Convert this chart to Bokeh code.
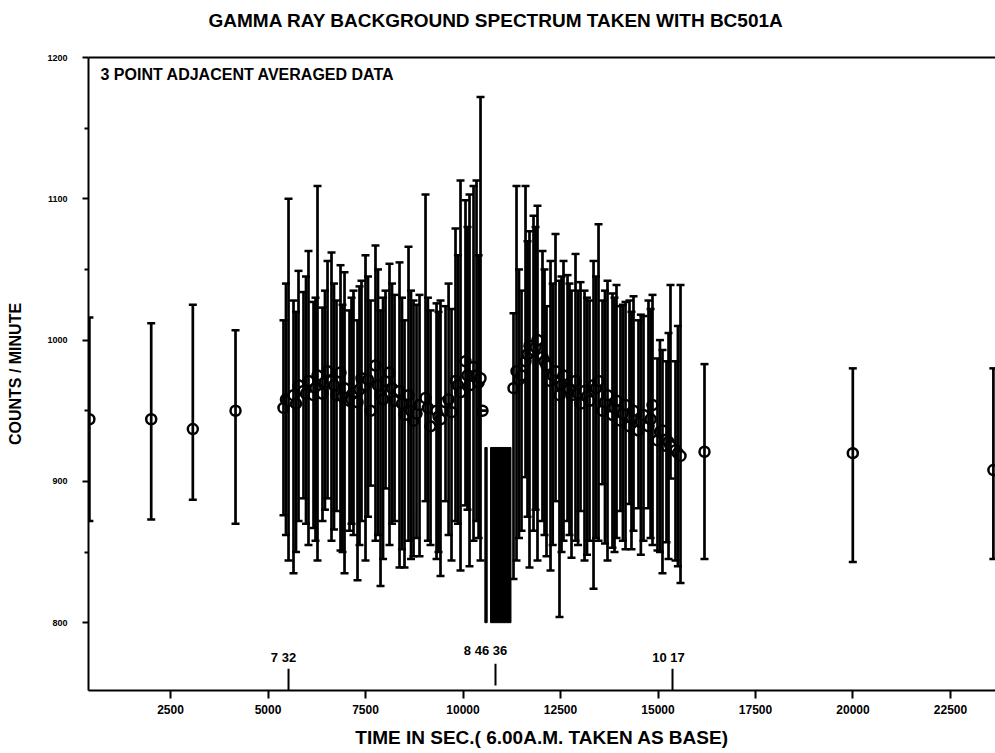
from bokeh.plotting import figure
from bokeh.models import ColumnDataSource, FixedTicker, LinearAxis, Range1d, Label, BasicTickFormatter
from bokeh.embed import file_html
from bokeh.resources import INLINE
from bokeh.core.properties import value

# ---- data (time in s after 6:00 A.M., counts/minute, error-bar low/high) ----
time_s = [420, 2005, 3072, 4167,
          5397, 5460, 5526, 5654, 5718, 5782, 5910, 5974, 6038, 6167, 6218, 6269, 6397, 6460,
          6526, 6628, 6692, 6756, 6859, 6910, 6962, 7090, 7141, 7192, 7295, 7346, 7397, 7500,
          7564, 7628, 7756, 7820, 7885, 7950, 8013, 8115, 8180, 8244, 8372, 8436, 8500, 8603,
          8667, 8731, 8808, 8885, 9039, 9100, 9167, 9321, 9372, 9423, 9552, 9630, 9705, 9808,
          9870, 9936, 10064, 10115, 10167, 10270, 10346, 10400, 10449, 10500,
          11295, 11372, 11436, 11500, 11603, 11654, 11705, 11808, 11860, 11910, 12038, 12090,
          12141, 12244, 12300, 12372, 12474, 12526, 12577, 12680, 12730, 12782, 12885, 12950,
          13013, 13116, 13180, 13244, 13347, 13410, 13475, 13577, 13640, 13705, 13833, 13885,
          13936, 14038, 14100, 14167, 14269, 14320, 14372, 14500, 14560, 14628, 14756, 14810,
          14859, 14987, 15050, 15115, 15218, 15270, 15320, 15449, 15510, 15577,
          16192, 19995, 23600]
counts = [944, 944, 937, 950,
          952, 958, 957, 961, 955, 968, 964, 962, 971, 961, 966, 975, 962, 970,
          978, 971, 968, 961, 977, 960, 966, 957, 958, 963, 956, 965, 973, 968,
          972, 950, 982, 968, 961, 958, 971, 977, 966, 957, 964, 955, 947, 961,
          950, 943, 948, 954, 959, 952, 939, 950, 946, 944, 956, 958, 949, 971,
          968, 963, 985, 975, 968, 981, 975, 970, 973, 950,
          966, 978, 972, 975, 985, 990, 996, 993, 995, 1000, 988, 985,
          982, 971, 975, 978, 961, 968, 975, 966, 965, 961, 971, 962,
          955, 964, 960, 957, 968, 966, 971, 950, 956, 961, 947, 952,
          957, 943, 948, 954, 939, 945, 950, 936, 942, 947, 939, 944,
          954, 929, 935, 936, 925, 928, 925, 922, 920, 918,
          921, 920, 908]
err_lo = [872, 873, 887, 870,
          876, 862, 844, 835, 850, 872, 888, 870, 855, 867, 858, 844, 872, 880,
          888, 858, 866, 879, 851, 850, 835, 865, 870, 862, 830, 855, 872, 844,
          875, 897, 858, 862, 826, 845, 895, 855, 870, 872, 839, 852, 839, 858,
          845, 847, 860, 847, 886, 858, 855, 845, 850, 833, 886, 862, 844, 872,
          870, 837, 883, 880, 840, 858, 872, 860, 844, 950,
          831, 844, 860, 865, 903, 875, 839, 865, 880, 844, 872, 862,
          847, 837, 855, 886, 804, 850, 858, 872, 862, 846, 858, 855,
          879, 844, 848, 858, 824, 860, 858, 898, 856, 844, 853, 850,
          860, 879, 858, 852, 884, 852, 865, 881, 848, 858, 881, 860,
          855, 851, 850, 835, 857, 845, 902, 844, 840, 828,
          845, 843, 845]
err_hi = [1016, 1012, 1025, 1007,
          1014, 1040, 1100, 1028, 1020, 1049, 1034, 1045, 1063, 1027, 1030, 1109, 1023, 1035,
          1056, 1062, 1040, 1028, 1053, 1025, 1048, 1021, 1030, 1035, 1014, 1038, 1042, 1060,
          1045, 1028, 1067, 1050, 1021, 1030, 1035, 1054, 1040, 1032, 1055, 1030, 1014, 1066,
          1035, 1028, 1025, 1032, 1103, 1030, 1021, 1026, 1020, 1028, 1024, 1040, 1022, 1079,
          1060, 1113, 1099, 1080, 1103, 1109, 1113, 1060, 1172, 950,
          1019, 1109, 1050, 1035, 1109, 1070, 1077, 1088, 1080, 1095, 1063, 1050,
          1024, 1056, 1040, 1075, 1042, 1045, 1056, 1046, 1040, 1035, 1061, 1035,
          1041, 1035, 1030, 1028, 1056, 1045, 1082, 1028, 1035, 1042, 1033, 1030,
          1039, 1024, 1025, 1027, 1028, 1020, 1031, 1014, 1018, 1017, 1028, 1022,
          1032, 987, 1000, 993, 985, 1005, 1039, 985, 1010, 1039,
          983, 980, 980]

# solid block of overlapping bars around 9:00 A.M.
block_start = [10560, 10706]
block_end = [10620, 11230]
block_lo = [800, 800]
block_hi = [924, 924]

# clock-time markers
marker_times = [5526, 10833, 15372]
marker_base = [752, 755.5, 752]
marker_top = [767.4, 771, 767.4]
marker_label_x = [5397, 10577, 15269]
marker_label_y = [770, 775, 770]
marker_labels = ["7 32", "8 46 36", "10 17"]

x_ticks = [2500, 5000, 7500, 10000, 12500, 15000, 17500, 20000, 22500]
y_ticks = [800, 900, 1000, 1100, 1200]
y_minor = [850, 950, 1050, 1150]

FONT = "Liberation Sans"

src = ColumnDataSource(dict(x=time_s, y=counts, lo=err_lo, hi=err_hi))

p = figure(width=995, height=753,
           x_range=Range1d(397, 23654), y_range=Range1d(752, 1200),
           output_backend="svg", toolbar_location=None,
           min_border_left=88, min_border_right=0, min_border_top=57, min_border_bottom=63)

p.grid.visible = False
p.outline_line_color = None
p.background_fill_color = "white"

# title
p.title.text = "GAMMA RAY BACKGROUND SPECTRUM TAKEN WITH BC501A"
p.title.align = "left"
p.title.offset = 120
p.title.text_font = FONT
p.title.text_font_size = "19px"
p.title.text_font_style = "bold"
p.title.text_color = "black"
p.title.standoff = 0

# axes (configure before adding the top frame line)
xa = p.below[0]
xa.ticker = FixedTicker(ticks=x_ticks)
xa.formatter = BasicTickFormatter(use_scientific=False)
xa.axis_label = "TIME IN SEC.( 6.00A.M. TAKEN AS BASE)"
xa.axis_label_text_font = FONT
xa.axis_label_text_font_size = "19px"
xa.axis_label_text_font_style = "bold"
xa.axis_label_standoff = 10
xa.major_label_text_font = FONT
xa.major_label_text_font_size = "12px"
xa.major_label_text_font_style = "bold"
xa.major_label_standoff = 6
xa.major_tick_out = 8
xa.major_tick_in = 0
xa.axis_line_width = 2
xa.major_tick_line_width = 2
xa.minor_tick_line_color = None

ya = p.left[0]
ya.ticker = FixedTicker(ticks=y_ticks, minor_ticks=y_minor)
ya.axis_label = "COUNTS / MINUTE"
ya.axis_label_text_font = FONT
ya.axis_label_text_font_size = "16px"
ya.axis_label_text_font_style = "bold"
ya.axis_label_standoff = 20
ya.major_label_text_font = FONT
ya.major_label_text_font_size = "9px"
ya.major_label_text_font_style = "bold"
ya.major_label_standoff = 15
ya.major_tick_out = 6
ya.major_tick_in = 0
ya.minor_tick_out = 4
ya.minor_tick_in = 0
ya.axis_line_width = 2
ya.major_tick_line_width = 2
ya.minor_tick_line_width = 2
ya.minor_tick_line_color = "black"

for a in (xa, ya):
    a.axis_label_text_color = "black"
    a.major_label_text_color = "black"
    a.axis_line_color = "black"
    a.major_tick_line_color = "black"

# top frame line (its blank label only reserves room under the title)
top_axis = LinearAxis(ticker=FixedTicker(ticks=[]), major_label_text_font_size="0px",
                      major_tick_line_color=None, minor_tick_line_color=None,
                      major_label_standoff=0, major_tick_out=0,
                      axis_label=" ", axis_label_text_font_size="2px", axis_label_standoff=22,
                      axis_line_width=2, axis_line_color="black")
p.add_layout(top_axis, "above")

# points (drawn first, error bars over them)
p.scatter(x="x", y="y", source=src, marker="circle", size=10,
          line_color="black", line_width=2.5, fill_color="white")

# error bars
p.segment(x0="x", y0="lo", x1="x", y1="hi", source=src, line_color="black", line_width=2.7)
p.scatter(x="x", y="hi", source=src, marker="dash", size=8, line_color="black", line_width=2.5)
p.scatter(x="x", y="lo", source=src, marker="dash", size=8, line_color="black", line_width=2.5)

# block
p.quad(left=block_start, right=block_end, bottom=block_lo, top=block_hi,
       fill_color="black", line_color="black")

# markers
p.segment(x0=marker_times, y0=marker_base, x1=marker_times, y1=marker_top,
          line_color="black", line_width=2)
p.text(x=marker_label_x, y=marker_label_y, text=marker_labels, text_align="center",
       text_baseline="bottom", text_font=value(FONT), text_font_style="bold",
       text_font_size="13px", text_color="black")

p.add_layout(Label(x=705, y=1194, text="3 POINT ADJACENT AVERAGED DATA",
                   text_baseline="top", text_font=FONT, text_font_size="16px",
                   text_font_style="bold", text_color="black"))

open("out.html", "w").write(file_html(p, INLINE))
